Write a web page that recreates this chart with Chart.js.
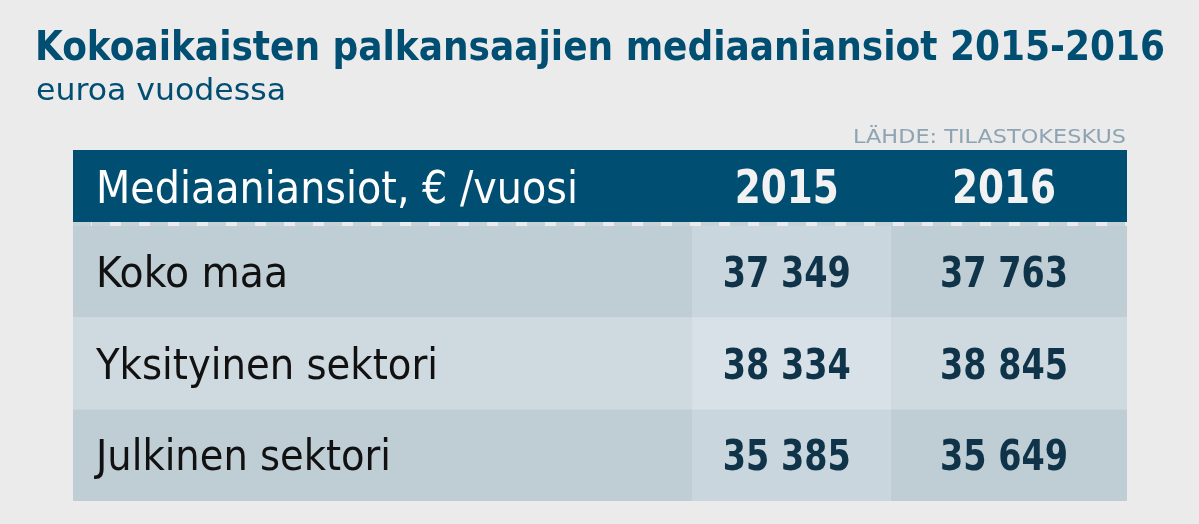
<!DOCTYPE html>
<html>
<head>
<meta charset="utf-8">
<script src="https://cdn.jsdelivr.net/npm/chart.js@4/dist/chart.umd.min.js"></script>
<style>
  html, body { margin: 0; padding: 0; background: #ebebeb; }
  #wrap { width: 1199px; height: 524px; position: relative; }
</style>
</head>
<body>
<div id="wrap"><canvas id="c"></canvas></div>
<script>
const rows = ['Koko maa', 'Yksityinen sektori', 'Julkinen sektori'];
const years = ['2015', '2016'];
const values2015 = [37349, 38334, 35385];
const values2016 = [37763, 38845, 35649];

const title = 'Kokoaikaisten palkansaajien mediaaniansiot 2015-2016';
const subtitle = 'euroa vuodessa';
const source = 'LÄHDE: TILASTOKESKUS';
const headLabel = 'Mediaaniansiot, € /vuosi';

// column edges on the x scale (0..100)
const colEdges = [0, 58.8, 77.6, 100];
const FONT = '"Liberation Sans Narrow", "DejaVu Sans Condensed", "Noto Sans", sans-serif';

function fmt(v) {
    return String(v).replace(/\B(?=(\d{3})+(?!\d))/g, ' ');
}

// draw text squeezed/stretched to a given width
function fitText(ctx, text, x, y, width, font, color, align) {
    ctx.save();
    ctx.font = font;
    ctx.fillStyle = color;
    ctx.textBaseline = 'alphabetic';
    const w = ctx.measureText(text).width;
    const s = width / w;
    let x0 = x;
    if (align === 'center') x0 = x - width / 2;
    if (align === 'right') x0 = x - width;
    ctx.translate(x0, y);
    ctx.scale(s, 1);
    ctx.textAlign = 'left';
    ctx.fillText(text, 0, 0);
    ctx.restore();
}

const tablePlugin = {
    id: 'table',
    beforeDatasetsDraw(chart) {
        const { ctx, scales: { x, y } } = chart;
        const band = y.getPixelForValue(1) - y.getPixelForValue(0);
        const left = x.getPixelForValue(0), right = x.getPixelForValue(100);
        const top = y.getPixelForValue(0) - band / 2;

        // titles
        fitText(ctx, title, 35, 60, 1130, 'bold 40px ' + FONT, '#004e72');
        fitText(ctx, subtitle, 36, 100, 250, '30px ' + FONT, '#004e72');
        fitText(ctx, source, 1126, 143, 273, '20px ' + FONT, '#8ea4b2', 'right');

        // header
        ctx.fillStyle = '#004e72';
        ctx.fillRect(left, 150, right - left, top - 150);
        ctx.fillStyle = '#ebebeb';
        ctx.fillRect(left, top - 4, right - left, 4);
        ctx.fillStyle = '#c6d2d9';
        for (let px = left - 10; px < right; px += 29) {
            ctx.fillRect(Math.max(px, left), top - 4, Math.min(18, right - Math.max(px, left)), 4);
        }
        fitText(ctx, headLabel, 96, 203, 482, '44px ' + FONT, '#ffffff');
        years.forEach((yr, i) => {
            const cx = (x.getPixelForValue(colEdges[i + 1]) + x.getPixelForValue(colEdges[i + 2])) / 2 - 5;
            fitText(ctx, yr, cx, 203, 104, 'bold 46px ' + FONT, '#f2f2f2', 'center');
        });

        // cells
        const vals = [values2015, values2016];
        rows.forEach((r, ri) => {
            const yc = y.getPixelForValue(ri);
            const y0 = yc - band / 2;
            const even = ri % 2 === 1;
            for (let c = 0; c < 3; c++) {
                const x0 = x.getPixelForValue(colEdges[c]);
                const x1 = x.getPixelForValue(colEdges[c + 1]);
                if (c === 1) ctx.fillStyle = even ? '#d8e1e7' : '#c9d6de';
                else ctx.fillStyle = even ? '#cfd9e0' : '#bfcdd5';
                ctx.fillRect(x0, y0, x1 - x0, band);
            }
            ctx.font = '42px ' + FONT;
            fitText(ctx, r, 96, yc + 15, [192, 342, 295][ri], '42px ' + FONT, '#111111');
            vals.forEach((arr, c) => {
                const cx = (x.getPixelForValue(colEdges[c + 1]) + x.getPixelForValue(colEdges[c + 2])) / 2 - 5;
                fitText(ctx, fmt(arr[ri]), cx, yc + 15, 128, 'bold 42px ' + FONT, '#0f3348', 'center');
            });
        });
    }
};

new Chart(document.getElementById('c'), {
    type: 'bar',
    data: {
        labels: rows,
        datasets: [{ data: rows.map(() => null) }]
    },
    options: {
        indexAxis: 'y',
        responsive: true,
        maintainAspectRatio: false,
        animation: false,
        layout: { padding: { left: 73, right: 72, top: 226, bottom: 23 } },
        scales: {
            x: { type: 'linear', min: 0, max: 100, display: false },
            y: { type: 'category', display: false }
        },
        plugins: { legend: { display: false }, tooltip: { enabled: false } }
    },
    plugins: [tablePlugin]
});
</script>
</body>
</html>
